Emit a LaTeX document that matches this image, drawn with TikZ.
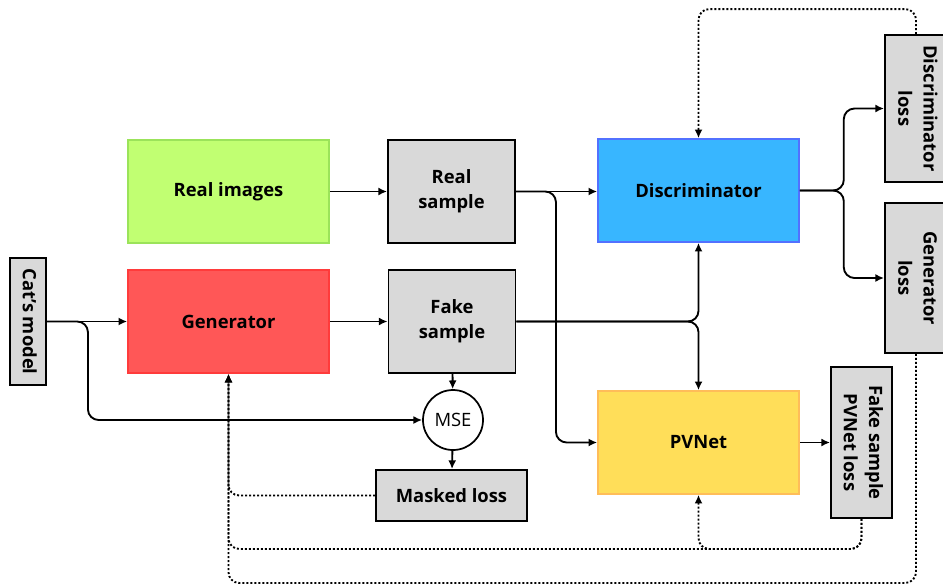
\documentclass[tikz,border=0pt]{standalone}
\usepackage{fontspec}
\setmainfont{Open Sans}
\usepackage{xcolor}
\usepackage{graphicx}
\usepackage{tikz}
\usetikzlibrary{arrows.meta}

\definecolor{realgreen}{HTML}{C1FF72}
\definecolor{realgreenb}{HTML}{9BE35A}
\definecolor{genred}{HTML}{FF5757}
\definecolor{genredb}{HTML}{FF3B3B}
\definecolor{discblue}{HTML}{38B6FF}
\definecolor{discblueb}{HTML}{5271FF}
\definecolor{pvyellow}{HTML}{FFDE59}
\definecolor{pvyellowb}{HTML}{FFBD59}
\definecolor{lossgray}{HTML}{D9D9D9}

\newcommand{\vtext}[1]{\rotatebox{-90}{\begin{tabular}{@{}c@{}}#1\end{tabular}}}

\begin{document}
\begin{tikzpicture}[x=0.75pt,y=-0.75pt,
    blk/.style={draw,line width=1.2pt,minimum width=150.75pt,minimum height=77.25pt,
        font=\fontsize{13.8}{19}\selectfont\bfseries},
    lossbox/.style={draw=black,fill=lossgray,line width=1.4pt,inner sep=0pt,align=center,
        font=\fontsize{13.8}{19}\selectfont\bfseries},
    smp/.style={lossbox,minimum width=95.25pt,minimum height=77.25pt},
    arr/.style={line width=1.4pt,-{Latex[length=6.5pt,width=6pt]}},
    fb/.style={arr,dash pattern=on 1.5pt off 1.5pt}]
\useasboundingbox (0,0) rectangle (943,586);

% Blocks
\node[blk,fill=realgreen,draw=realgreenb] (real) at (228.5,191.5) {Real images};
\node[smp] (realsmp) at (451.5,191.5) {Real\\sample};
\node[blk,fill=discblue,draw=discblueb] (disc) at (698.5,190.5) {Discriminator};
\node[blk,fill=genred,draw=genredb] (gen) at (228.5,321.5) {Generator};
\node[smp] (fakesmp) at (452,321.5) {Fake\\sample};
\node[blk,fill=pvyellow,draw=pvyellowb] (pvnet) at (698.5,442.5) {PVNet};

% Losses and inputs
\node[lossbox,minimum width=27pt,minimum height=95.25pt] (cat) at (28,321.5) {\vtext{Cat's model}};
\node[draw,circle,line width=1.3pt,minimum size=45pt,inner sep=0pt,
    font=\fontsize{13.8}{16}\selectfont] (mse) at (453,420) {MSE};
\node[lossbox,minimum width=113.25pt,minimum height=38.25pt] (masked) at (451.5,495.5) {Masked loss};
\node[lossbox,minimum width=45.75pt,minimum height=113.25pt] (fpl) at (861.5,442.5) {\vtext{Fake sample\\PVNet loss}};
\node[lossbox,minimum width=46.5pt,minimum height=110.25pt] (dloss) at (916,108.5) {\vtext{Discriminator\\loss}};
\node[lossbox,minimum width=46.5pt,minimum height=112.5pt] (gloss) at (916,278) {\vtext{Generator\\loss}};

% Forward arrows
\draw[arr] (real) -- (realsmp);
\draw[arr] (realsmp.east) -- (realsmp.east -| disc.west);
\draw[arr,rounded corners=8pt] (realsmp.east) -- ++(40,0) |- (pvnet.west);
\draw[arr] (gen) -- (fakesmp);
\draw[arr,rounded corners=8pt] (fakesmp.east) -| (disc.south);
\draw[arr,rounded corners=8pt] (fakesmp.east) -| (pvnet.north);
\draw[arr] (fakesmp) -- (mse);
\draw[arr] (mse) -- (masked);
\draw[arr] (cat) -- (gen);
\draw[arr,rounded corners=8pt] (cat.east) -- ++(41,0) |- (mse.west);
\draw[arr,rounded corners=8pt] (disc.east) -- ++(44,0) |- (dloss.west);
\draw[arr,rounded corners=8pt] (disc.east) -- ++(44,0) |- (gloss.west);
\draw[arr] (pvnet) -- (fpl);

% Feedback (dotted)
\draw[fb,rounded corners=8pt] (dloss.north) -- ++(0,-25) -| (disc.north);
\draw[fb,rounded corners=8pt] (gloss.south) -- ++(0,229) -| (gen.south);
\draw[fb,rounded corners=8pt] (masked.west) -| (gen.south);
\draw[fb,rounded corners=8pt] (fpl.south) -- ++(0,30) -| (gen.south);
\draw[fb,rounded corners=8pt] (fpl.south) -- ++(0,30) -| (pvnet.south);
\end{tikzpicture}
\end{document}
